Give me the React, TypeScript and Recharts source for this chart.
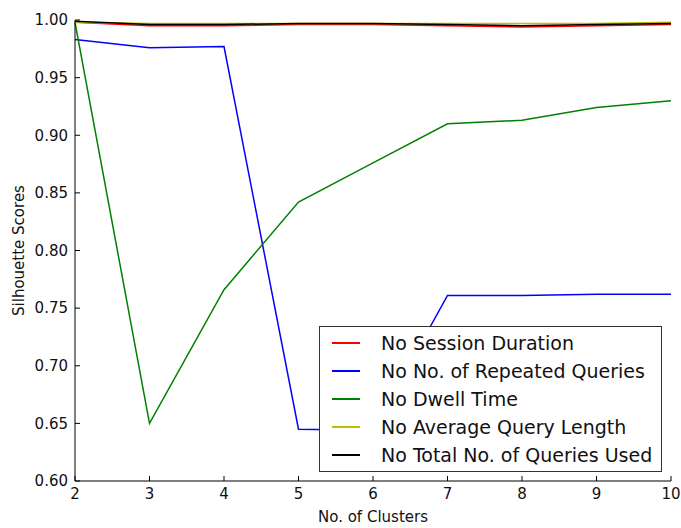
import React from 'react';
import { LineChart, Line, XAxis, YAxis, Legend } from 'recharts';

const clusters = [2, 3, 4, 5, 6, 7, 8, 9, 10];
const noSessionDuration = [0.998, 0.995, 0.995, 0.996, 0.996, 0.995, 0.994, 0.995, 0.996];
const noRepeatedQueries = [0.983, 0.976, 0.977, 0.645, 0.644, 0.761, 0.761, 0.762, 0.762];
const noDwellTime = [0.998, 0.650, 0.766, 0.842, 0.876, 0.910, 0.913, 0.924, 0.930];
const noAvgQueryLength = [0.998, 0.997, 0.997, 0.997, 0.997, 0.997, 0.997, 0.997, 0.998];
const noTotalQueries = [0.999, 0.996, 0.996, 0.997, 0.997, 0.996, 0.995, 0.996, 0.997];

const xTicks = [2, 3, 4, 5, 6, 7, 8, 9, 10];
const yTicks = [0.6, 0.65, 0.7, 0.75, 0.8, 0.85, 0.9, 0.95, 1.0];

const series = [
  { key: 's', name: 'No Session Duration', color: '#ff0000', values: noSessionDuration },
  { key: 'r', name: 'No No. of Repeated Queries', color: '#0000ff', values: noRepeatedQueries },
  { key: 'd', name: 'No Dwell Time', color: '#008000', values: noDwellTime },
  { key: 'a', name: 'No Average Query Length', color: '#bfbf00', values: noAvgQueryLength },
  { key: 't', name: 'No Total No. of Queries Used', color: '#000000', values: noTotalQueries },
];

const data = clusters.map((k, i) => {
  const row: any = { k };
  series.forEach((s) => {
    row[s.key] = s.values[i];
  });
  return row;
});

const FONT = '"DejaVu Sans", sans-serif';

const LegendBox = () => (
  <div
    style={{
      background: '#fff',
      border: '1px solid #333',
      boxSizing: 'border-box',
      width: 343,
      height: 146,
      padding: '2px 0 0 0',
      fontFamily: FONT,
      fontSize: 19,
      color: '#111',
    }}
  >
    {series.map((s) => (
      <div key={s.key} style={{ display: 'flex', alignItems: 'center', height: 28 }}>
        <div style={{ marginLeft: 12, width: 28, height: 1.5, background: s.color, flex: 'none' }} />
        <div style={{ marginLeft: 21, whiteSpace: 'nowrap' }}>{s.name}</div>
      </div>
    ))}
  </div>
);

export default function App() {
  return (
    <div style={{ position: 'absolute', left: 0, top: 0, width: 681, height: 528, background: '#fff' }}>
      <LineChart width={681} height={528} data={data} margin={{ top: 20, right: 10, bottom: 0, left: 0 }}>
        <XAxis
          dataKey="k"
          type="number"
          domain={[2, 10]}
          ticks={xTicks}
          interval={0}
          height={47}
          tickSize={-5}
          tickMargin={12}
          axisLine={{ stroke: '#000', strokeWidth: 1 }}
          tickLine={{ stroke: '#000' }}
          tick={{ fill: '#111', fontSize: 15, fontFamily: FONT }}
          label={{
            value: 'No. of Clusters',
            position: 'insideBottom',
            offset: 6,
            style: { fill: '#111', fontSize: 15, fontFamily: FONT },
          }}
        />
        <XAxis
          xAxisId="top"
          dataKey="k"
          type="number"
          orientation="top"
          domain={[2, 10]}
          ticks={xTicks}
          interval={0}
          height={0}
          tickSize={-5}
          tick={false}
          axisLine={{ stroke: '#000', strokeWidth: 1 }}
          tickLine={{ stroke: '#000' }}
        />
        <YAxis
          type="number"
          domain={[0.6, 1.0]}
          ticks={yTicks}
          interval={0}
          width={75}
          tickSize={-5}
          tickMargin={12}
          allowDataOverflow
          tickFormatter={(v: number) => v.toFixed(2)}
          axisLine={{ stroke: '#000', strokeWidth: 1 }}
          tickLine={{ stroke: '#000' }}
          tick={{ fill: '#111', fontSize: 15, fontFamily: FONT }}
          label={(props: any) => {
            const vb = props.viewBox || { x: 0, y: 20, width: 75, height: 461 };
            const cx = 19;
            const cy = vb.y + vb.height / 2;
            return (
              <text
                x={cx}
                y={cy}
                transform={`rotate(-90, ${cx}, ${cy})`}
                textAnchor="middle"
                dominantBaseline="central"
                style={{ fill: '#111', fontSize: 15, fontFamily: FONT }}
              >
                Silhouette Scores
              </text>
            );
          }}
        />
        <YAxis
          yAxisId="right"
          orientation="right"
          type="number"
          domain={[0.6, 1.0]}
          ticks={yTicks}
          interval={0}
          width={0}
          tickSize={-5}
          tick={false}
          axisLine={{ stroke: '#000', strokeWidth: 1 }}
          tickLine={{ stroke: '#000' }}
        />
        {series.map((s) => (
          <Line
            key={s.key}
            dataKey={s.key}
            name={s.name}
            stroke={s.color}
            strokeWidth={1.5}
            dot={false}
            activeDot={false}
            isAnimationActive={false}
            type="linear"
          />
        ))}
        <Legend
          layout="horizontal"
          verticalAlign="middle"
          align="center"
          content={() => <LegendBox />}
          wrapperStyle={{ position: 'absolute', left: 319, top: 326, width: 343, height: 146 }}
        />
      </LineChart>
    </div>
  );
}
